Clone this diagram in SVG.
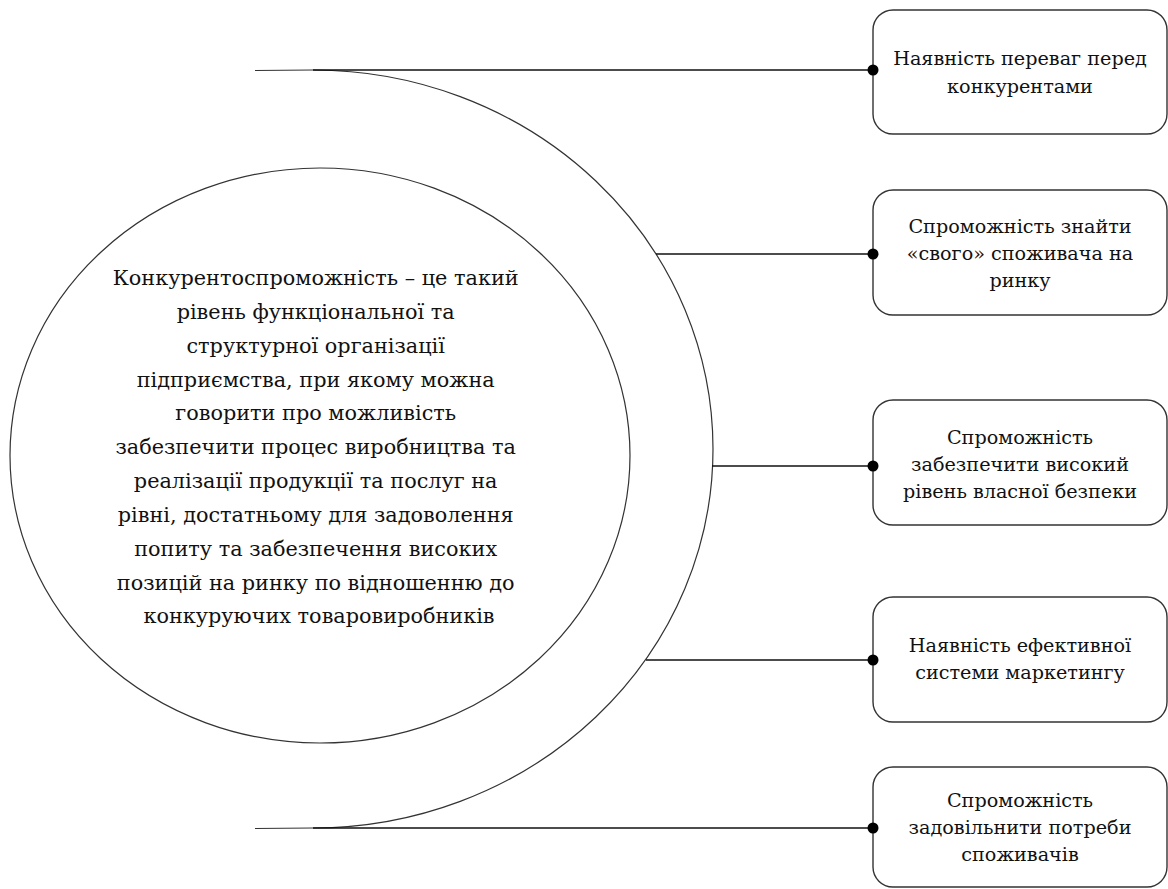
<svg xmlns="http://www.w3.org/2000/svg" width="1168" height="889" viewBox="0 0 1168 889">
<style>
.arc{fill:none;stroke:#333;stroke-width:1.2}
.box{fill:#fff;stroke:#333;stroke-width:1.4}
.con{fill:none;stroke:#111;stroke-width:1.4}
.dot{fill:#000}
.t{font-family:"DejaVu Serif",serif;font-size:19.2px;fill:#111;text-anchor:middle}
.big{font-family:"DejaVu Serif",serif;font-size:20.8px;fill:#111;text-anchor:middle}
</style>
<rect width="1168" height="889" fill="#fff"/>
<g id="outer-arc">
<path class="arc" d="M255,70.5 L313,70 A400,379 0 0 1 313,828 L255,828.5"/>
</g>
<g id="center">
<ellipse class="arc" cx="320" cy="455.5" rx="310" ry="287.5"/>
<text class="big">
<tspan x="319" y="285">Конкурентоспроможність – це такий</tspan>
<tspan x="319" y="319">рівень функціональної та</tspan>
<tspan x="319" y="353">структурної організації</tspan>
<tspan x="319" y="387">підприємства, при якому можна</tspan>
<tspan x="319" y="420">говорити про можливість</tspan>
<tspan x="319" y="454">забезпечити процес виробництва та</tspan>
<tspan x="319" y="488">реалізації продукції та послуг на</tspan>
<tspan x="319" y="522">рівні, достатньому для задоволення</tspan>
<tspan x="319" y="556">попиту та забезпечення високих</tspan>
<tspan x="319" y="590">позицій на ринку по відношенню до</tspan>
<tspan x="319" y="623">конкуруючих товаровиробників</tspan>
</text>
</g>
<g id="connectors">
<line class="con" x1="313" y1="70" x2="873" y2="70"/>
<line class="con" x1="656" y1="254" x2="873" y2="254"/>
<line class="con" x1="712" y1="466" x2="873" y2="466"/>
<line class="con" x1="646" y1="660" x2="873" y2="660"/>
<line class="con" x1="313" y1="828" x2="873" y2="828"/>
</g>
<g id="box1">
<rect class="box" x="873" y="10" width="294" height="124" rx="20"/>
<circle class="dot" cx="873" cy="70" r="5.5"/>
<text class="t"><tspan x="1020" y="65">Наявність переваг перед</tspan><tspan x="1020" y="93">конкурентами</tspan></text>
</g>
<g id="box2">
<rect class="box" x="873" y="190" width="294" height="125" rx="20"/>
<circle class="dot" cx="873" cy="254" r="5.5"/>
<text class="t"><tspan x="1020" y="233">Спроможність знайти</tspan><tspan x="1020" y="260">«свого» споживача на</tspan><tspan x="1020" y="287">ринку</tspan></text>
</g>
<g id="box3">
<rect class="box" x="873" y="400" width="294" height="125" rx="20"/>
<circle class="dot" cx="873" cy="466" r="5.5"/>
<text class="t"><tspan x="1020" y="444">Спроможність</tspan><tspan x="1020" y="471">забезпечити високий</tspan><tspan x="1020" y="498">рівень власної безпеки</tspan></text>
</g>
<g id="box4">
<rect class="box" x="873" y="597" width="294" height="125" rx="20"/>
<circle class="dot" cx="873" cy="660" r="5.5"/>
<text class="t"><tspan x="1020" y="652">Наявність ефективної</tspan><tspan x="1020" y="679">системи маркетингу</tspan></text>
</g>
<g id="box5">
<rect class="box" x="873" y="767" width="294" height="120" rx="20"/>
<circle class="dot" cx="873" cy="828" r="5.5"/>
<text class="t"><tspan x="1020" y="807">Спроможність</tspan><tspan x="1020" y="834">задовільнити потреби</tspan><tspan x="1020" y="861">споживачів</tspan></text>
</g>
</svg>
